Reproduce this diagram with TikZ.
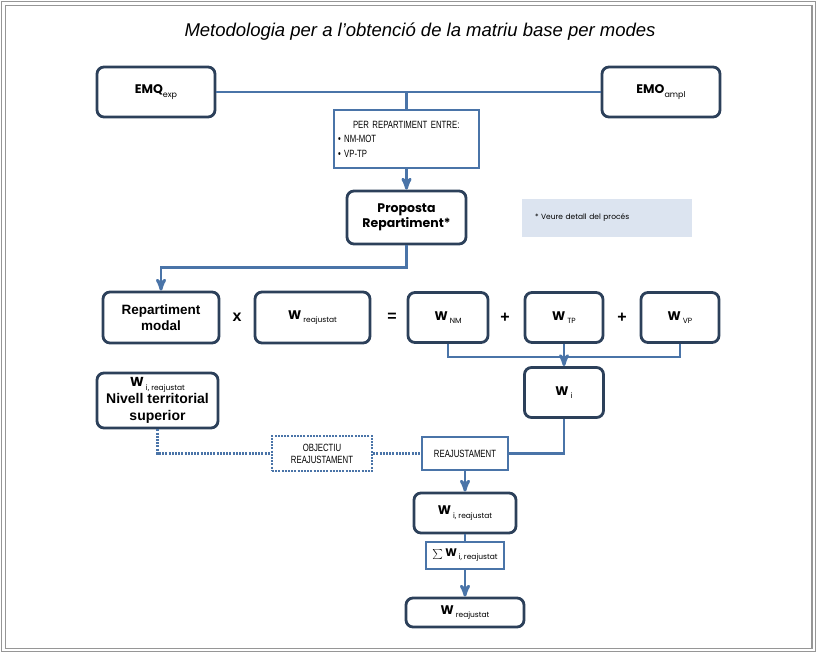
\documentclass[tikz,border=0pt]{standalone}
\usepackage{fontspec}
\setmainfont{Liberation Sans}
\newfontfamily\gothic{Poppins}
\newfontfamily\narrowfont[FakeStretch=0.74]{Liberation Sans}
\usepackage{tikz}
\usetikzlibrary{arrows}
\definecolor{boxline}{RGB}{44,64,90}
\definecolor{linkblue}{RGB}{74,116,168}
\definecolor{notefill}{RGB}{220,228,240}
\definecolor{framegray}{RGB}{150,150,150}
\newcommand{\Wsub}[1]{W\raisebox{-0.5ex}{\,\mdseries\fontsize{7.5}{8}\selectfont #1}}
\tikzstyle{rbox} = [draw=boxline, line width=2.8pt, rounded corners=7pt, fill=white, align=center, inner sep=0pt, font=\gothic\bfseries\fontsize{12.5}{15}\selectfont]
\tikzstyle{sbox} = [draw=linkblue, line width=2.5pt, fill=white, align=center, inner sep=0pt, font=\narrowfont\fontsize{10.5}{12}\selectfont]
\tikzstyle{op} = [font=\bfseries\fontsize{16}{16}\selectfont]
\tikzstyle{link} = [draw=linkblue, line width=2.8pt]

\begin{document}
\begin{tikzpicture}[x=1pt,y=-1pt,>=stealth']
  \useasboundingbox (0,0) rectangle (817,653);
  \draw[framegray, line width=1pt] (1.5,1.5) rectangle (815.5,651.5);
  \draw[framegray, line width=1.6pt] (5.5,5.5) rectangle (812,648.5);

  \node[font=\itshape\fontsize{18.5}{20}\selectfont] (title) at (420,32) {Metodologia per a l’obtenció de la matriu base per modes};

  % sources
  \node[rbox, minimum width=118pt, minimum height=50pt] (emq) at (156,92) {EMQ\raisebox{-0.5ex}{\mdseries\fontsize{8}{8}\selectfont exp}};
  \node[rbox, minimum width=118pt, minimum height=50pt, right of=emq, node distance=505pt] (emo) {EMO\raisebox{-0.5ex}{\mdseries\fontsize{8}{8}\selectfont ampl}};
  \node[sbox, minimum width=145pt, minimum height=58pt, text width=137pt, align=left, font=\narrowfont\fontsize{10.5}{14.5}\selectfont] (per) at (406.5,139)
    {\hspace*{15pt}PER REPARTIMENT ENTRE:\\ \textbullet\ NM-MOT\\ \textbullet\ VP-TP};
  \node[rbox, minimum width=119pt, minimum height=53pt, below of=per, node distance=78.5pt] (prop) {Proposta\\Repartiment*};
  \node[fill=notefill, minimum width=170pt, minimum height=38pt, inner xsep=13pt, text width=144pt, align=left,
    font=\gothic\fontsize{7.5}{9}\selectfont, right of=prop, node distance=200.5pt] (note) {* Veure detall del procés};

  % modal split
  \node[rbox, minimum width=116pt, minimum height=51pt, font=\bfseries\fontsize{13.5}{16}\selectfont] (repmod) at (161,317.5) {Repartiment\\modal};
  \node[op, right of=repmod, node distance=76pt] (times) {x};
  \node[rbox, minimum width=115pt, minimum height=51pt, right of=repmod, node distance=151.5pt] (wreaj) {\Wsub{reajustat}};
  \node[op, right of=wreaj, node distance=79.5pt] (equals) {=};
  \node[rbox, minimum width=80pt, minimum height=50pt, right of=wreaj, node distance=135.5pt] (wnm) {\Wsub{NM}};
  \node[op, right of=wnm, node distance=57pt] (plusa) {+};
  \node[rbox, minimum width=78pt, minimum height=50pt, right of=wnm, node distance=116pt] (wtp) {\Wsub{TP}};
  \node[op, right of=wtp, node distance=58pt] (plusb) {+};
  \node[rbox, minimum width=78pt, minimum height=50pt, right of=wtp, node distance=116pt] (wvp) {\Wsub{VP}};
  \node[rbox, minimum width=79pt, minimum height=50pt, below of=wtp, node distance=75pt] (wi) {\Wsub{i}};

  % readjustment
  \node[rbox, minimum width=121pt, minimum height=55pt, font=\bfseries\fontsize{14}{17}\selectfont] (wsup) at (157.5,400.5)
    {{\gothic\fontsize{13}{15}\selectfont\Wsub{i, reajustat}}\\Nivell territorial\\superior};
  \node[sbox, minimum width=86pt, minimum height=33pt] (reaj) at (465,453.5) {REAJUSTAMENT};
  \node[sbox, minimum width=100pt, minimum height=35pt, dash pattern=on 2pt off 1.2pt, left of=reaj, node distance=143pt] (objectiu) {OBJECTIU\\REAJUSTAMENT};
  \node[rbox, minimum width=102pt, minimum height=40pt, below of=reaj, node distance=59.5pt] (wireaj) {\Wsub{i, reajustat}};
  \node[sbox, minimum width=78pt, minimum height=27pt, font=\gothic\bfseries\fontsize{11}{13}\selectfont, below of=wireaj, node distance=42.5pt] (sum) {$\sum$ \Wsub{i, reajustat}};
  \node[rbox, minimum width=118pt, minimum height=29pt, below of=sum, node distance=57pt] (wfinal) {\Wsub{reajustat}};

  \begin{scope}[every path/.style=link]
    \path (emq) -- (emo);
    \path (per.north |- emq) -- (per.north);
    \path[->] (per) -- (prop);
    \path[->] (prop.south) -- ++(0,22) -| (repmod.north);
    \path (wnm.south) -- ++(0,13) -| (wvp.south);
    \path[->] (wtp) -- (wi);
    \path (wi.south) |- (reaj.east);
    \path[->] (reaj) -- (wireaj);
    \path (wireaj) -- (sum);
    \path[->] (sum) -- (wfinal);
    \path[dash pattern=on 2pt off 1.2pt] (wsup.south) |- (objectiu.west);
    \path[dash pattern=on 2pt off 1.2pt] (objectiu) -- (reaj);
  \end{scope}

\end{tikzpicture}
\end{document}
